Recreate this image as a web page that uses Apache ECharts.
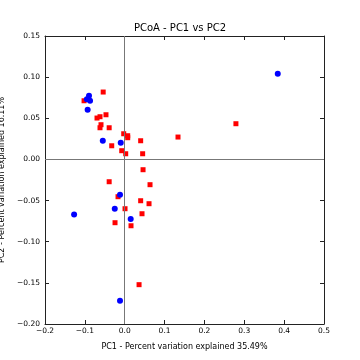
<!DOCTYPE html>
<html><head><meta charset="utf-8">
<script src="https://cdn.jsdelivr.net/npm/echarts@6/dist/echarts.min.js"></script>
<style>html,body{margin:0;padding:0;background:#fff}#c{width:360px;height:360px}</style>
</head><body><div id="c"></div>
<script>
const titleText = 'PCoA - PC1 vs PC2';
const xName = 'PC1 - Percent variation explained 35.49%';
const yName = 'PC2 - Percent variation explained 16.11%';
const xTicks = [-0.2, -0.1, 0.0, 0.1, 0.2, 0.3, 0.4, 0.5];
const yTicks = [-0.20, -0.15, -0.10, -0.05, 0.00, 0.05, 0.10, 0.15];
const redPC1 = [-0.054, -0.102, -0.047, -0.062, -0.0695, -0.0595, -0.062, -0.039, -0.0025, 0.0075, 0.0075, 0.040, -0.0326, -0.0075, 0.0025, 0.045, 0.046, -0.039, 0.0635, -0.0168, 0.040, 0.061, 0.0008, 0.0434, -0.0243, 0.0158, 0.036, 0.279, 0.1337];
const redPC2 = [0.0819, 0.0713, 0.0543, 0.0519, 0.0503, 0.0422, 0.0385, 0.0385, 0.0312, 0.0288, 0.0264, 0.0227, 0.0166, 0.0106, 0.0069, 0.0069, -0.0125, -0.0271, -0.0307, -0.0453, -0.0502, -0.0538, -0.0599, -0.066, -0.0769, -0.0806, -0.1522, 0.0434, 0.0272];
const bluePC1 = [-0.127, -0.0896, -0.087, -0.095, -0.093, -0.055, -0.010, -0.0118, -0.025, 0.015, -0.0118, 0.384];
const bluePC2 = [-0.067, 0.0774, 0.0713, 0.073, 0.0604, 0.0227, 0.0203, -0.0429, -0.060, -0.0724, -0.1717, 0.104];

const fmtMinus = d => v => (v < 0 ? '\u2212' : '') + Math.abs(v).toFixed(d);
const font = 'DejaVu Sans';
const frame = {show: true, onZero: false, lineStyle: {color: '#222', width: 1}};
const tick = {show: true, inside: true, length: 4, lineStyle: {color: '#222', width: 1}};

const chart = echarts.init(document.getElementById('c'), null, {renderer: 'canvas'});
chart.setOption({
  animation: false,
  backgroundColor: '#fff',
  title: {text: titleText, left: 'center', top: 18, textStyle: {fontFamily: font, fontSize: 10, fontWeight: 'normal', color: '#000'}},
  grid: {left: 45, right: 36, top: 36, bottom: 36, containLabel: false, outerBoundsMode: 'none'},
  xAxis: [
    {type: 'value', min: xTicks[0], max: xTicks[xTicks.length-1], interval: 0.1, position: 'bottom',
     name: xName, nameLocation: 'middle', nameGap: 19, nameTextStyle: {fontFamily: font, fontSize: 8, color: '#000'},
     axisLine: frame, axisTick: tick, splitLine: {show: false},
     axisLabel: {fontFamily: font, fontSize: 7.5, color: '#000', margin: 3, formatter: fmtMinus(1)}},
    {type: 'value', min: xTicks[0], max: xTicks[xTicks.length-1], interval: 0.1, position: 'top',
     axisLine: frame, axisTick: tick, splitLine: {show: false}, axisLabel: {show: false}}
  ],
  yAxis: [
    {type: 'value', min: yTicks[0], max: yTicks[yTicks.length-1], interval: 0.05, position: 'left',
     name: yName, nameLocation: 'middle', nameGap: 36, nameTextStyle: {fontFamily: font, fontSize: 8, color: '#000'},
     axisLine: frame, axisTick: tick, splitLine: {show: false},
     axisLabel: {fontFamily: font, fontSize: 7.5, color: '#000', margin: 5, formatter: fmtMinus(2)}},
    {type: 'value', min: yTicks[0], max: yTicks[yTicks.length-1], interval: 0.05, position: 'right',
     axisLine: frame, axisTick: tick, splitLine: {show: false}, axisLabel: {show: false}}
  ],
  series: [
    {type: 'scatter', symbol: 'rect', symbolSize: 5, itemStyle: {color: '#ff0000', opacity: 1},
     data: redPC1.map((x, i) => [x, redPC2[i]]),
     markLine: {silent: true, symbol: 'none', label: {show: false}, animation: false,
       lineStyle: {color: '#777', width: 1, type: 'solid'},
       data: [{xAxis: 0}, {yAxis: 0}]}},
    {type: 'scatter', symbol: 'circle', symbolSize: 6, itemStyle: {color: '#0000ff', opacity: 1},
     data: bluePC1.map((x, i) => [x, bluePC2[i]])}
  ]
});
</script></body></html>
